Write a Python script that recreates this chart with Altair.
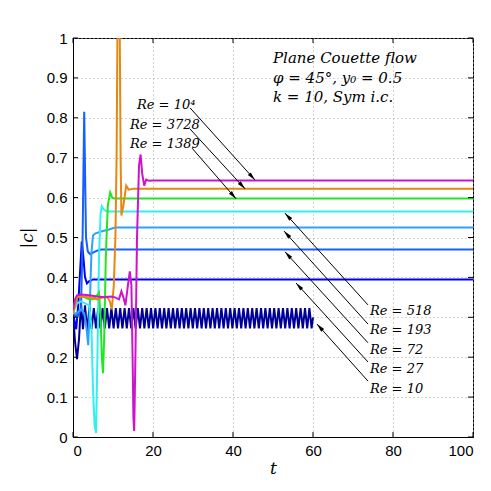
import math
import altair as alt
import pandas as pd

# ---------------- data ----------------
series_names = ["Re=10", "Re=27", "Re=72", "Re=193", "Re=518", "Re=1389", "Re=3728", "Re=1e4"]
series_colors = ["#000099", "#0000f0", "#1560ff", "#30a0ff", "#30f0f0", "#22e622", "#e8870f", "#cc14cc"]

t10 = [0, 0.5, 1.0, 1.5, 2.0, 2.5,
       3.0, 3.55, 4.1, 4.65, 5.2, 5.75, 6.3, 6.85, 7.4, 7.95, 8.5, 9.05, 9.6, 10.15,
       10.7, 11.25, 11.8, 12.35, 12.9, 13.45, 14.0, 14.55, 15.1, 15.65, 16.2, 16.75,
       17.3, 17.85, 18.4, 18.95, 19.5, 20.05, 20.6, 21.15, 21.7, 22.25, 22.8, 23.35,
       23.9, 24.45, 25.0, 25.55, 26.1, 26.65, 27.2, 27.75, 28.3, 28.85, 29.4, 29.95,
       30.5, 31.05, 31.6, 32.15, 32.7, 33.25, 33.8, 34.35, 34.9, 35.45, 36.0, 36.55,
       37.1, 37.65, 38.2, 38.75, 39.3, 39.85, 40.4, 40.95, 41.5, 42.05, 42.6, 43.15,
       43.7, 44.25, 44.8, 45.35, 45.9, 46.45, 47.0, 47.55, 48.1, 48.65, 49.2, 49.75,
       50.3, 50.85, 51.4, 51.95, 52.5, 53.05, 53.6, 54.15, 54.7, 55.25, 55.8, 56.35,
       56.9, 57.45, 58.0, 58.55, 59.1, 59.65, 60.0]
c10 = [0.31, 0.24, 0.195, 0.245, 0.335, 0.27,
       0.33, 0.265, 0.325, 0.27, 0.323, 0.272, 0.323, 0.272, 0.323, 0.272, 0.323, 0.272, 0.323, 0.272,
       0.323, 0.272, 0.323, 0.272, 0.323, 0.272, 0.323, 0.272, 0.323, 0.272, 0.323, 0.272,
       0.323, 0.272, 0.323, 0.272, 0.323, 0.272, 0.323, 0.272, 0.323, 0.272, 0.323, 0.272,
       0.323, 0.272, 0.323, 0.272, 0.323, 0.272, 0.323, 0.272, 0.323, 0.272, 0.323, 0.272,
       0.323, 0.272, 0.323, 0.272, 0.323, 0.272, 0.323, 0.272, 0.323, 0.272, 0.323, 0.272,
       0.323, 0.272, 0.323, 0.272, 0.323, 0.272, 0.323, 0.272, 0.323, 0.272, 0.323, 0.272,
       0.323, 0.272, 0.323, 0.272, 0.323, 0.272, 0.323, 0.272, 0.323, 0.272, 0.323, 0.272,
       0.323, 0.272, 0.323, 0.272, 0.323, 0.272, 0.323, 0.272, 0.323, 0.272, 0.323, 0.272,
       0.323, 0.272, 0.323, 0.272, 0.323, 0.272, 0.30]

t27 = [0, 0.8, 1.3, 1.8, 2.2, 2.6, 3.0, 3.5, 4.0, 5.0, 100]
c27 = [0.31, 0.27, 0.33, 0.42, 0.49, 0.45, 0.40, 0.385, 0.39, 0.395, 0.395]

t72 = [0, 1.0, 2.0, 2.4, 2.8, 3.25, 3.7, 4.3, 5.0, 6.0, 7.0, 100]
c72 = [0.31, 0.30, 0.32, 0.50, 0.815, 0.50, 0.465, 0.458, 0.462, 0.467, 0.47, 0.47]

t193 = [0, 1, 2, 2.8, 3.3, 3.8, 4.2, 4.6, 5.0, 5.5, 7, 9, 10.5, 100]
c193 = [0.31, 0.31, 0.32, 0.31, 0.28, 0.23, 0.33, 0.46, 0.505, 0.51, 0.515, 0.52, 0.525, 0.525]

t518 = [0, 1, 2, 3, 4, 4.6, 5.0, 5.4, 5.75, 6.1, 6.5, 6.9, 7.2, 7.7, 8.5, 100]
c518 = [0.31, 0.335, 0.34, 0.335, 0.33, 0.28, 0.12, 0.03, 0.01, 0.2, 0.45, 0.56, 0.578, 0.57, 0.565, 0.565]

t1389 = [0, 1, 2, 3, 4, 5, 6, 6.5, 6.9, 7.2, 7.5, 7.8, 8.2, 8.7, 9.3, 9.8, 10.4, 100]
c1389 = [0.31, 0.35, 0.352, 0.35, 0.345, 0.345, 0.355, 0.362, 0.30, 0.2, 0.16, 0.25, 0.45, 0.58, 0.613, 0.6, 0.598, 0.598]

t3728 = [0, 1, 2, 4, 6, 7.5, 8.5, 9.2, 9.7, 10.2, 10.6, 10.9, 11.1, 11.4, 11.7, 11.9, 12.1, 12.6, 13.3, 13.9, 15, 100]
c3728 = [0.31, 0.35, 0.352, 0.35, 0.345, 0.35, 0.352, 0.34, 0.32, 0.38, 0.5, 0.7, 1.0, 1.4, 1.0, 0.7, 0.555, 0.58, 0.63, 0.62, 0.622, 0.622]

t1e4 = [0, 0.5, 1, 2, 4, 6, 8, 9.5, 10.5, 11.5, 12.1, 12.6, 13.1, 13.6, 14.2, 14.6, 14.9, 15.1, 15.3,
        15.6, 16.0, 16.5, 16.9, 17.3, 17.8, 18.3, 19, 20, 100]
c1e4 = [0.318, 0.345, 0.355, 0.357, 0.355, 0.352, 0.35, 0.352, 0.35, 0.345, 0.365, 0.35, 0.33, 0.37,
        0.415, 0.38, 0.2, 0.05, 0.015, 0.2, 0.5, 0.68, 0.708, 0.66, 0.63, 0.645, 0.642, 0.643, 0.643]

series_t = [t10, t27, t72, t193, t518, t1389, t3728, t1e4]
series_c = [c10, c27, c72, c193, c518, c1389, c3728, c1e4]

# labels and arrows (data coordinates)
label_text = ["Re = 10⁴", "Re = 3728", "Re = 1389",
              "Re = 518", "Re = 193", "Re = 72", "Re = 27", "Re = 10"]
label_t = [16.0, 14.25, 14.25, 74.25, 74.25, 74.25, 74.25, 74.25]
label_c = [0.832, 0.782, 0.734, 0.316, 0.268, 0.218, 0.170, 0.120]
arrow_t0 = [29.25, 29.25, 29.75, 73.75, 73.75, 73.75, 73.75, 73.75]
arrow_c0 = [0.825, 0.772, 0.724, 0.331, 0.283, 0.236, 0.188, 0.140]
arrow_t1 = [45.5, 43.0, 40.75, 53.0, 52.75, 53.0, 55.75, 61.0]
arrow_c1 = [0.644, 0.622, 0.597, 0.561, 0.516, 0.464, 0.386, 0.283]

note_text = ["Plane Couette flow", "φ = 45°,  y₀ = 0.5", "k = 10,  Sym i.c."]
note_t = [50.0, 50.0, 50.0]
note_c = [0.950, 0.900, 0.852]

x_ticks = [0, 20, 40, 60, 80, 100]
y_ticks = [0, 0.1, 0.2, 0.3, 0.4, 0.5, 0.6, 0.7, 0.8, 0.9, 1]

# ---------------- build tables ----------------
W, H = 400, 399
rows = []
for name, ts, cs in zip(series_names, series_t, series_c):
    for k, (tv, cv) in enumerate(zip(ts, cs)):
        rows.append({"series": name, "t": tv, "c": cv, "k": k})
lines_df = pd.DataFrame(rows)

angles = []
for a0, b0, a1, b1 in zip(arrow_t0, arrow_c0, arrow_t1, arrow_c1):
    dx = (a1 - a0) / 100 * W
    dy = -(b1 - b0) * H
    angles.append(math.degrees(math.atan2(dx, -dy)) % 360)
arrows_df = pd.DataFrame({"t": arrow_t0, "c": arrow_c0, "t2": arrow_t1, "c2": arrow_c1, "ang": angles})
heads_df = pd.DataFrame({"t": arrow_t1, "c": arrow_c1, "ang": angles})
labels_df = pd.DataFrame({"t": label_t, "c": label_c, "text": label_text})
notes_df = pd.DataFrame({"t": note_t, "c": note_c, "text": note_text})

tick_rows = []
for v in x_ticks:
    tick_rows.append({"t": v, "t2": v, "c": 0, "c2": 0.0125})
    tick_rows.append({"t": v, "t2": v, "c": 1, "c2": 0.9875})
for v in y_ticks:
    tick_rows.append({"t": 0, "t2": 1.25, "c": v, "c2": v})
    tick_rows.append({"t": 100, "t2": 98.75, "c": v, "c2": v})
ticks_df = pd.DataFrame(tick_rows)

xscale = alt.Scale(domain=[0, 100], nice=False, zero=False)
yscale = alt.Scale(domain=[0, 1], nice=False, zero=False)
xaxis = alt.Axis(values=x_ticks, title="t", format="d")
yaxis = alt.Axis(values=y_ticks, title="|c|", format="~g")
X = alt.X("t:Q", scale=xscale, axis=xaxis, title="t")
Y = alt.Y("c:Q", scale=yscale, axis=yaxis, title="|c|")

lines = alt.Chart(lines_df).mark_line(strokeWidth=2, clip=True).encode(
    x=X, y=Y,
    color=alt.Color("series:N", scale=alt.Scale(domain=series_names, range=series_colors), legend=None),
    order="k:Q",
)

ticks = alt.Chart(ticks_df).mark_rule(color="black", strokeWidth=1).encode(
    x=X, x2="t2:Q", y=Y, y2="c2:Q",
)

arrow_lines = alt.Chart(arrows_df).mark_rule(color="black", strokeWidth=1).encode(
    x=X, x2="t2:Q", y=Y, y2="c2:Q",
)
arrow_heads = alt.Chart(heads_df).mark_point(
    shape="M0,0L-0.45,1.9L0.45,1.9Z", filled=True, color="black", opacity=1, size=80,
).encode(
    x=X, y=Y,
    angle=alt.Angle("ang:Q", scale=None),
)

labels = alt.Chart(labels_df).mark_text(
    align="left", baseline="middle", font="DejaVu Serif", fontStyle="italic", fontSize=13, color="black",
).encode(x=X, y=Y, text="text:N")

notes = alt.Chart(notes_df).mark_text(
    align="left", baseline="middle", font="DejaVu Serif", fontStyle="italic", fontSize=15, color="black",
).encode(x=X, y=Y, text="text:N")

chart = alt.layer(lines, ticks, arrow_lines, arrow_heads, labels, notes).properties(
    width=W, height=H,
    autosize=alt.AutoSizeParams(type="none"),
    padding={"left": 65, "top": 30, "right": 10, "bottom": 45},
    background="white",
).configure_view(
    stroke="black", strokeWidth=1,
).configure_axis(
    domainColor="black", domainWidth=1,
    ticks=False,
    grid=True, gridColor="#a8a8a8", gridDash=[1, 3], gridWidth=1,
    labelFont="Liberation Sans", labelFontSize=15, labelColor="black", labelPadding=6,
    titleFont="DejaVu Serif", titleFontStyle="italic", titleFontWeight="normal", titleFontSize=17,
    titleColor="black",
).configure_axisX(
    titlePadding=2,
).configure_axisY(
    titlePadding=10,
)

chart.save("out.html", embed_options={"renderer": "svg", "actions": False})
